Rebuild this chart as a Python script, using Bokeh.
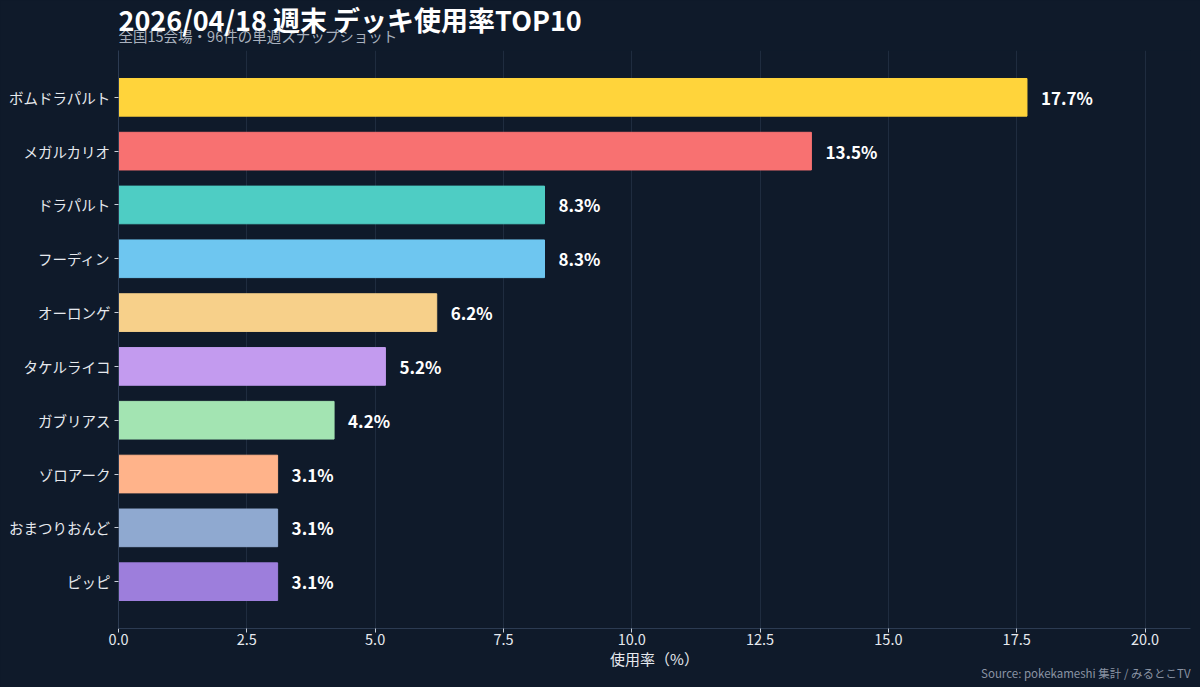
from bokeh.plotting import figure
from bokeh.models import ColumnDataSource, FactorRange, Range1d, FixedTicker, Title, NumeralTickFormatter
from bokeh.core.properties import value
from bokeh.core.templates import get_env
from bokeh.embed import file_html
from bokeh.resources import INLINE

# data
decks = ["ボムドラパルト", "メガルカリオ", "ドラパルト", "フーディン", "オーロンゲ",
         "タケルライコ", "ガブリアス", "ゾロアーク", "おまつりおんど", "ピッピ"]
usage = [17.7, 13.5, 8.3, 8.3, 6.2, 5.2, 4.2, 3.1, 3.1, 3.1]
colors = ["#FFD43B", "#F87171", "#4ECDC4", "#6EC6F0", "#F7D08A",
          "#C39BEF", "#A3E4B2", "#FFB38A", "#8FA9D0", "#9D7EDC"]
x_ticks = [0, 2.5, 5, 7.5, 10, 12.5, 15, 17.5, 20]

title_text = "2026/04/18 週末 デッキ使用率TOP10"
subtitle_text = "全国15会場・96件の単週スナップショット"
source_text = "Source: pokekameshi 集計 / みるとこTV"

FONT = "Noto Sans CJK JP"
BG = "#0F1A2A"

src = ColumnDataSource(dict(
    deck=decks,
    usage=usage,
    color=colors,
    label=[f"{v:.1f}%" for v in usage],
))

p = figure(
    y_range=FactorRange(factors=decks[::-1], range_padding=0.074),
    x_range=Range1d(0, max(usage) * 1.18),
    width=1200, height=687,
    output_backend="svg", toolbar_location=None,
    min_border_left=118, min_border_right=10, min_border_top=50, min_border_bottom=59,
)
p.background_fill_color = BG
p.border_fill_color = BG
p.outline_line_color = None

p.hbar(y="deck", right="usage", height=0.7, source=src, fill_color="color", line_color="color")
p.text(x="usage", y="deck", text="label", source=src, x_offset=14,
       text_font=value(FONT), text_font_size="17px", text_font_style="bold",
       text_color="white", text_baseline="middle", text_align="left")

# axes
p.xaxis.ticker = FixedTicker(ticks=x_ticks)
p.xaxis.formatter = NumeralTickFormatter(format="0.0")
p.xaxis.axis_label = "使用率（%）"
for ax in (p.xaxis[0], p.yaxis[0]):
    ax.axis_line_color = "#2C3B52"
    ax.major_tick_line_color = "#C8CED8"
    ax.major_tick_out = 4
    ax.major_tick_in = 0
    ax.minor_tick_line_color = None
    ax.major_label_text_color = "#E6E9EE"
    ax.major_label_text_font = FONT
    ax.major_label_text_font_size = "14.5px"
    ax.axis_label_text_color = "#E6E9EE"
    ax.axis_label_text_font = FONT
    ax.axis_label_text_font_size = "15px"
    ax.axis_label_text_font_style = "normal"
p.xaxis.axis_label_standoff = 0
p.xaxis.major_label_standoff = 1
p.yaxis.major_label_standoff = 4

p.xgrid.grid_line_color = "#1F2C3F"
p.ygrid.grid_line_color = None

# title + subtitle stacked above, source note below the axis
p.add_layout(Title(text=subtitle_text, text_font=FONT, text_font_size="14.5px",
                   text_font_style="normal", text_color="#A9B1BE", standoff=10), "above")
p.add_layout(Title(text=title_text, text_font=FONT, text_font_size="27px",
                   text_font_style="bold", text_color="white", standoff=-42), "above")
p.add_layout(Title(text=source_text, text_font=FONT, text_font_size="11.5px",
                   text_font_style="normal", text_color="#8A93A3", align="right",
                   vertical_align="top", standoff=-14), "below")

# page behind the canvas in the same dark colour so no light seams show
page = get_env().from_string(
    '{% extends "file.html" %}'
    '{% block preamble %}<style>html, body { background-color: #0F1A2A; }</style>{% endblock %}'
)

open("out.html", "w").write(file_html(p, INLINE, template=page))
